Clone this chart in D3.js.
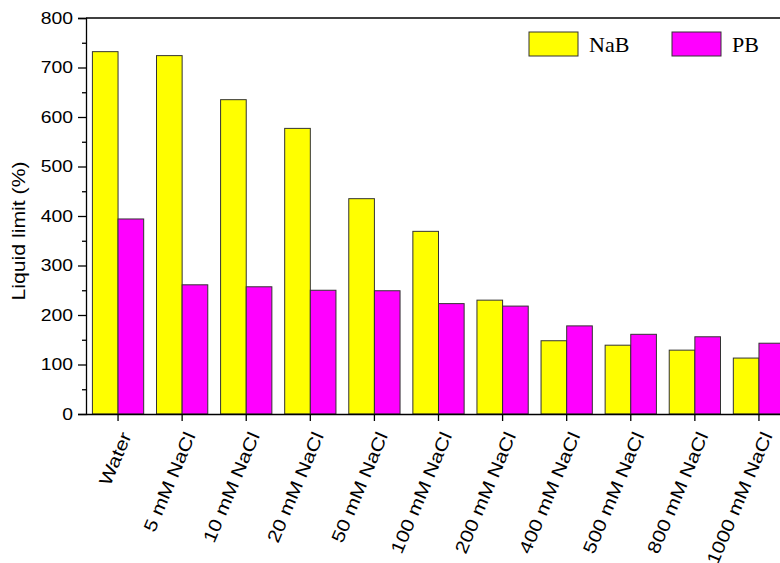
<!DOCTYPE html>
<html>
<head>
<meta charset="utf-8">
<script src="https://cdn.jsdelivr.net/npm/d3@7"></script>
<style>
	body { margin: 0; background: #fff; }
	svg { display: block; }
</style>
</head>
<body>
<script>
var categories = ["Water", "5 mM NaCl", "10 mM NaCl", "20 mM NaCl", "50 mM NaCl", "100 mM NaCl",
	"200 mM NaCl", "400 mM NaCl", "500 mM NaCl", "800 mM NaCl", "1000 mM NaCl"];
var seriesNames = ["NaB", "PB"];
var nabValues = [732, 724, 635, 577, 435, 369, 230, 148, 139, 129, 113];
var pbValues = [394, 261, 257, 250, 249, 223, 218, 178, 161, 156, 143];
var yTicks = [0, 100, 200, 300, 400, 500, 600, 700, 800];
var yMinorTicks = [50, 150, 250, 350, 450, 550, 650, 750];
var colors = ["#ffff00", "#ff00ff"];

var w = 780;
var h = 563;
// plot edges (right side runs past the window like the original)
var plotLeft = 86, plotTop = 18, plotBottom = 414, plotRight = 791;

var svg = d3.select("body")
			.append("svg")
			.attr("width", w)
			.attr("height", h);

var x = d3.scaleBand()
	.domain(categories)
	.range([plotLeft, plotRight])
	.paddingInner(0.2)
	.paddingOuter(0.1);

var xInner = d3.scaleBand()
	.domain(seriesNames)
	.range([0, x.bandwidth()]);

var y = d3.scaleLinear()
	.domain([0, 800])
	.range([plotBottom, plotTop]);

var dataset = categories.map(function(c, i) {
	return {cat: c, values: [{name: "NaB", value: nabValues[i]}, {name: "PB", value: pbValues[i]}]};
});

//bars
var groups = svg.selectAll("g.group")
	.data(dataset)
	.enter()
	.append("g")
	.attr("class", "group")
	.attr("transform", function(d) { return "translate(" + x(d.cat) + ",0)"; });

groups.selectAll("rect")
	.data(function(d) { return d.values; })
	.enter()
	.append("rect")
	.attr("x", function(d) { return xInner(d.name); })
	.attr("y", function(d) { return y(d.value); })
	.attr("width", xInner.bandwidth())
	.attr("height", function(d) { return y(0) - y(d.value); })
	.attr("fill", function(d, i) { return colors[i]; })
	.attr("stroke", "#333")
	.attr("stroke-width", 1);

//frame top line
svg.append("line")
	.attr("x1", plotLeft).attr("x2", plotRight)
	.attr("y1", plotTop).attr("y2", plotTop)
	.attr("stroke", "#000")
	.attr("stroke-width", 1.3);

//y axis
var yAxis = svg.append("g")
	.attr("transform", "translate(" + plotLeft + ",0)")
	.call(d3.axisLeft(y).tickValues(yTicks).tickSize(8).tickPadding(6));

yAxis.append("g")
	.call(d3.axisLeft(y).tickValues(yMinorTicks).tickSize(4).tickFormat(""))
	.select(".domain").remove();

yAxis.selectAll("text")
	.attr("x", 0)
	.attr("transform", "translate(-13,0) scale(1.14,1)")
	.style("font-family", "Liberation Sans, Arial, sans-serif")
	.style("font-size", "17px")
	.attr("fill", "#000");

//x axis
var xAxis = svg.append("g")
	.attr("transform", "translate(0," + plotBottom + ")")
	.call(d3.axisBottom(x).tickSize(7).tickSizeOuter(0));

xAxis.selectAll("text")
	.attr("x", 0)
	.attr("y", 0)
	.attr("dy", "0.35em")
	.attr("text-anchor", "end")
	.attr("transform", "translate(8,19) rotate(-67) scale(1.18,1)")
	.style("font-family", "Liberation Sans, Arial, sans-serif")
	.style("font-size", "18px")
	.attr("fill", "#000");

svg.selectAll(".domain, .tick line")
	.attr("stroke", "#000")
	.attr("stroke-width", 1.3);

//y title
svg.append("text")
	.attr("transform", "translate(25,231) rotate(-90) scale(1.18,1)")
	.attr("text-anchor", "middle")
	.style("font-family", "Liberation Sans, Arial, sans-serif")
	.style("font-size", "18px")
	.text("Liquid limit (%)");

//legend
var legendX = [529, 672];
var legend = svg.selectAll("g.legend")
	.data(seriesNames)
	.enter()
	.append("g")
	.attr("class", "legend")
	.attr("transform", function(d, i) { return "translate(" + legendX[i] + ",32)"; });

legend.append("rect")
	.attr("width", 49)
	.attr("height", 24)
	.attr("fill", function(d, i) { return colors[i]; })
	.attr("stroke", "#333")
	.attr("stroke-width", 1);

legend.append("text")
	.attr("x", 60)
	.attr("y", 20)
	.style("font-family", "Liberation Serif, Times New Roman, serif")
	.style("font-size", "22px")
	.text(function(d) { return d; });
</script>
</body>
</html>
